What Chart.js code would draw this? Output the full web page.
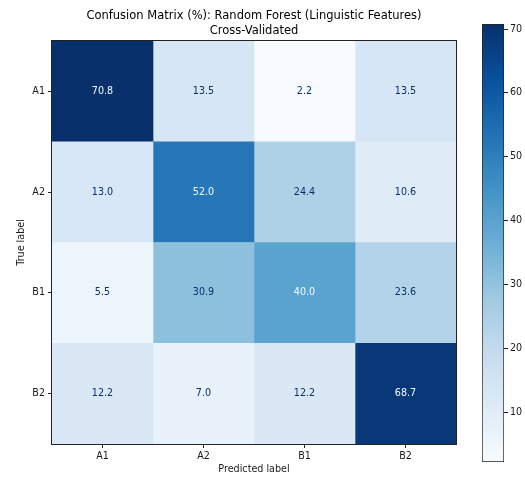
<!DOCTYPE html>
<html>
<head>
<meta charset="utf-8">
<script src="https://cdn.jsdelivr.net/npm/chart.js@4.4.1/dist/chart.umd.min.js"></script>
<style>
  html, body { margin: 0; padding: 0; background: #fff; overflow: hidden; }
  #wrap { position: relative; width: 525px; height: 477px; overflow: hidden; }
  #cm { position: absolute; left: 0; top: 0; }
  #cbar { position: absolute; left: 470px; top: 0; }
</style>
</head>
<body>
<div id="wrap">
  <canvas id="cm" width="508" height="477"></canvas>
  <canvas id="cbar" width="55" height="477"></canvas>
</div>
<script>
// Class labels
const trueLabels = ['A1', 'A2', 'B1', 'B2'];
const predLabels = ['A1', 'A2', 'B1', 'B2'];

// Row-normalised percentages, one row per true label
const rowA1 = [70.8, 13.5, 2.2, 13.5];
const rowA2 = [13.0, 52.0, 24.4, 10.6];
const rowB1 = [5.5, 30.9, 40.0, 23.6];
const rowB2 = [12.2, 7.0, 12.2, 68.7];

// Colour bar tick values
const colorbarTicks = [10, 20, 30, 40, 50, 60, 70];

const matrix = [rowA1, rowA2, rowB1, rowB2];
const allVals = matrix.flat();
const vmin = Math.min(...allVals);
const vmax = Math.max(...allVals);
const thresh = (vmin + vmax) / 2;

// "Blues" sequential colour map
const BLUES = ['#f7fbff', '#deebf7', '#c6dbef', '#9ecae1', '#6baed6',
               '#4292c6', '#2171b5', '#08519c', '#08306b'];
const BLUES_RGB = BLUES.map(h => [1, 3, 5].map(k => parseInt(h.slice(k, k + 2), 16)));

function blues(t) {
  t = Math.max(0, Math.min(1, t));
  const pos = t * (BLUES_RGB.length - 1);
  const i = Math.min(Math.floor(pos), BLUES_RGB.length - 2);
  const f = pos - i;
  const a = BLUES_RGB[i], b = BLUES_RGB[i + 1];
  const c = a.map((v, k) => Math.round(v + (b[k] - v) * f));
  return `rgb(${c[0]},${c[1]},${c[2]})`;
}
const colorFor = v => blues((v - vmin) / (vmax - vmin));

const TEXT = '#1a1a1a';
const FS = 9.6;
Chart.defaults.font.family = '"DejaVu Sans", sans-serif';
Chart.defaults.font.size = FS;
Chart.defaults.color = TEXT;

// One floating-bar dataset per predicted column; each bar is one cell.
const datasets = predLabels.map((p, j) => ({
  label: p,
  data: trueLabels.map(() => [j, j + 1]),
  backgroundColor: matrix.map(row => colorFor(row[j])),
  borderWidth: 0,
  grouped: false,
  barPercentage: 1,
  categoryPercentage: 1
}));

// Writes each cell's percentage and outlines the plotting area.
const cellText = {
  id: 'cellText',
  afterDatasetsDraw(chart) {
    const ctx = chart.ctx;
    ctx.save();
    ctx.font = FS + 'px "DejaVu Sans", sans-serif';
    ctx.textAlign = 'center';
    ctx.textBaseline = 'middle';
    chart.data.datasets.forEach((ds, j) => {
      chart.getDatasetMeta(j).data.forEach((el, i) => {
        const v = matrix[i][j];
        const p = el.getCenterPoint();
        ctx.fillStyle = v >= thresh ? BLUES[0] : BLUES[BLUES.length - 1];
        ctx.fillText(v.toFixed(1), p.x, p.y);
      });
    });
    const a = chart.chartArea;
    ctx.strokeStyle = '#222';
    ctx.lineWidth = 1;
    ctx.strokeRect(Math.round(a.left) - 0.5, Math.round(a.top) - 0.5,
                   Math.round(a.right - a.left) + 1, Math.round(a.bottom - a.top) + 1);
    ctx.restore();
  }
};

new Chart(document.getElementById('cm'), {
  type: 'bar',
  data: { labels: trueLabels, datasets },
  plugins: [cellText],
  options: {
    indexAxis: 'y',
    responsive: false,
    animation: false,
    devicePixelRatio: 1,
    layout: { padding: 0 },
    plugins: {
      legend: { display: false },
      tooltip: { enabled: false },
      title: {
        display: true,
        text: ['Confusion Matrix (%): Random Forest (Linguistic Features)', 'Cross-Validated'],
        color: '#000',
        font: { size: 11.5, weight: 'normal', lineHeight: 15 / 11.5 },
        padding: { top: 9, bottom: 2 }
      }
    },
    scales: {
      x: {
        type: 'linear',
        min: 0,
        max: predLabels.length,
        afterBuildTicks: s => { s.ticks = predLabels.map((_, j) => ({ value: j + 0.5 })); },
        afterFit: s => { s.height = 33; },
        ticks: { callback: (v, i) => predLabels[i], padding: 3, maxRotation: 0, autoSkip: false },
        grid: { drawOnChartArea: false, drawTicks: true, tickLength: 4, color: '#222' },
        border: { display: false },
        title: { display: true, text: 'Predicted label', padding: { top: 0, bottom: 2 } }
      },
      y: {
        type: 'category',
        offset: true,
        afterFit: s => { s.width = 52; },
        ticks: { padding: 3 },
        grid: { offset: false, drawOnChartArea: false, drawTicks: true, tickLength: 4, color: '#222' },
        border: { display: false },
        title: { display: true, text: 'True label', padding: { top: 16, bottom: 0 } }
      },
      yRight: {
        type: 'linear',
        position: 'right',
        display: true,
        afterFit: s => { s.width = 52; },
        ticks: { display: false },
        grid: { display: false },
        border: { display: false }
      }
    }
  }
});

// Colour bar: a single floating bar spanning the data range, filled with the map.
const cbCanvas = document.getElementById('cbar');
cbCanvas.width = 62;
new Chart(cbCanvas, {
  type: 'bar',
  data: {
    labels: [''],
    datasets: [{
      data: [[vmin, vmax]],
      backgroundColor: c => {
        const ch = c.chart;
        const ys = ch.scales.y;
        if (!ch.chartArea || !ys) return BLUES[4];
        const g = ch.ctx.createLinearGradient(0, ys.getPixelForValue(vmin), 0, ys.getPixelForValue(vmax));
        for (let k = 0; k <= 40; k++) g.addColorStop(k / 40, blues(k / 40));
        return g;
      },
      borderColor: '#222',
      borderWidth: 1,
      borderSkipped: false,
      barPercentage: 1,
      categoryPercentage: 1
    }]
  },
  options: {
    responsive: false,
    animation: false,
    devicePixelRatio: 1,
    layout: { padding: { left: 12, top: 24, bottom: 15, right: 0 } },
    plugins: { legend: { display: false }, tooltip: { enabled: false }, title: { display: false } },
    scales: {
      x: { display: false },
      y: {
        position: 'right',
        min: vmin,
        max: vmax,
        afterBuildTicks: s => { s.ticks = colorbarTicks.map(v => ({ value: v })); },
        afterFit: s => { s.width = 28; },
        ticks: { padding: 2 },
        grid: { drawOnChartArea: false, drawTicks: true, tickLength: 4, color: '#222' },
        border: { display: false }
      }
    }
  }
});
</script>
</body>
</html>
